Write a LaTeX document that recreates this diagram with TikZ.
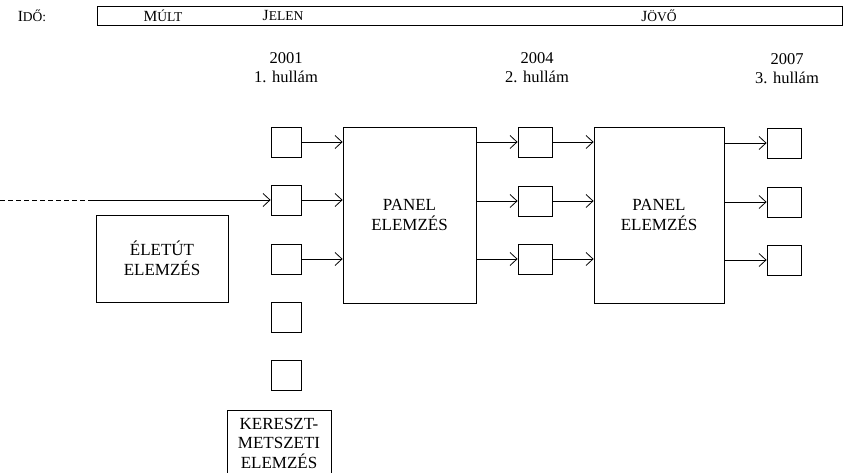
\documentclass[tikz,border=0pt]{standalone}
\usepackage{fontspec}
\setmainfont{Liberation Serif}
\usetikzlibrary{arrows.meta}

\tikzset{
  kocka/.style={draw, minimum width=30pt, minimum height=30pt, inner sep=0pt},
  panelbox/.style={draw, minimum width=131pt, minimum height=176pt, align=center},
  doboz/.style={draw, align=center, inner sep=0pt},
  nyil/.style={-{Straight Barb[length=7pt,width=13pt]}},
  felirat/.style={align=center, font=\fontsize{16.5}{19}\selectfont},
}
\newcommand{\kiskap}[2]{{\fontsize{15.5}{16}\selectfont #1}{\fontsize{13.5}{16}\selectfont #2}}

\begin{document}
\begin{tikzpicture}[x=1pt, y=-1pt, line width=0.8pt, font=\fontsize{17}{19.5}\selectfont]
    \useasboundingbox (0,0) rectangle (844,473);
    % ido sav
    \node (ido) at (32,16) {\kiskap{I}{DŐ:}};
    \node [draw, minimum width=745pt, minimum height=19pt, inner sep=0pt] (sav) at (470,15.5) {};
    \node (mult) at (163,16) {\kiskap{M}{ÚLT}};
    \node (jelen) at (283,16) {\kiskap{J}{ELEN}};
    \node (jovo) at (659,16) {\kiskap{J}{ÖVŐ}};
    % hullamok
    \node [felirat] (h1) at (286,68) {2001\\1. hullám};
    \node [felirat] (h2) at (537,68) {2004\\2. hullám};
    \node [felirat] (h3) at (787,69) {2007\\3. hullám};
    % kockak
    \node [kocka] (a1) at (286,142) {};
    \node [kocka] (a2) at (286,200) {};
    \node [kocka] (a3) at (286,259) {};
    \node [kocka] (a4) at (286,317) {};
    \node [kocka] (a5) at (286,375) {};
    \node [kocka, minimum width=34pt] (b1) at (535,142) {};
    \node [kocka, minimum width=34pt] (b2) at (535,201) {};
    \node [kocka, minimum width=34pt] (b3) at (535,259) {};
    \node [kocka, minimum width=34pt] (c1) at (784,143) {};
    \node [kocka, minimum width=34pt] (c2) at (784,202) {};
    \node [kocka, minimum width=34pt] (c3) at (784,260) {};
    % panelek
    \node [panelbox, minimum width=133pt] (p1) at (409.5,215) {PANEL\\ELEMZÉS};
    \node [panelbox, minimum width=130pt] (p2) at (659,215) {PANEL\\ELEMZÉS};
    \node [doboz, minimum width=132pt, minimum height=87pt] (eletut) at (162,258.5) {ÉLETÚT\\ELEMZÉS};
    \node [doboz, minimum width=104pt, minimum height=66pt] (kereszt) at (279,443) {KERESZT-\\METSZETI\\ELEMZÉS};
    % nyilak
    \foreach \i in {1,2,3} {
        \draw [nyil] (a\i) -- (a\i -| p1.west);
        \draw [nyil] (b\i -| p1.east) -- (b\i);
        \draw [nyil] (b\i) -- (b\i -| p2.west);
        \draw [nyil] (c\i -| p2.east) -- (c\i);
    }
    \coordinate (kezd) at (0,200);
    \coordinate (tores) at (88,200);
    \draw [dashed, dash pattern=on 5pt off 3pt] (kezd) -- (tores);
    \draw [nyil] (tores) -- (a2);
\end{tikzpicture}
\end{document}
